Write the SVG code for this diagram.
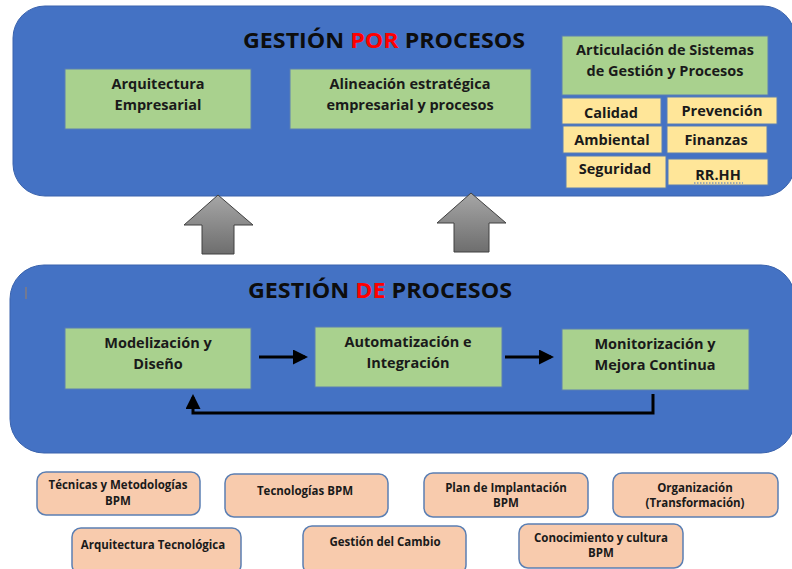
<svg xmlns="http://www.w3.org/2000/svg" width="792" height="569" viewBox="0 0 792 569">
<defs>
<style>
.big{fill:#4472c4;stroke:#3a63ad;stroke-width:1}
.green{fill:#a9d18e;stroke:#5b7fb3;stroke-width:1}
.yellow{fill:#ffe699;stroke:#5b7fb3;stroke-width:1}
.peach{fill:#f8cbad;stroke:#5b7fb3;stroke-width:1.5}
text{font-family:"Open Sans","Liberation Sans",Arial,sans-serif;font-weight:bold;fill:#1a1a1a;text-anchor:middle}
.title{font-size:21px;text-anchor:start;fill:#0d0d0d}
.red{fill:#ff0000}
.t14{font-size:14.5px}
.t11{font-size:11.5px}
.conn{fill:none;stroke:#000;stroke-width:3}
.uparrow{fill:url(#grey);stroke:#404040;stroke-width:1}
</style>
<linearGradient id="grey" x1="0" y1="0" x2="0" y2="1">
<stop offset="0" stop-color="#a6a6a6"/>
<stop offset="1" stop-color="#6e6e6e"/>
</linearGradient>
<marker id="ah" markerWidth="5" markerHeight="5" refX="4" refY="2.5" orient="auto" markerUnits="strokeWidth">
<path d="M0,0 L5,2.5 L0,5 z" fill="#000"/>
</marker>
</defs>

<g id="gestion-por-procesos">
<rect class="big" x="13" y="6" width="782" height="190" rx="32"/>
<text class="title" x="243" y="48" textLength="282" lengthAdjust="spacingAndGlyphs">GESTIÓN <tspan class="red">POR</tspan> PROCESOS</text>
</g>

<g id="arquitectura-empresarial">
<rect class="green" x="65" y="69" width="186" height="60"/>
<text class="t14" x="158" y="89">Arquitectura</text>
<text class="t14" x="158" y="110">Empresarial</text>
</g>

<g id="alineacion">
<rect class="green" x="290" y="69" width="241" height="60"/>
<text class="t14" x="410" y="89">Alineación estratégica</text>
<text class="t14" x="410" y="110">empresarial y procesos</text>
</g>

<g id="articulacion">
<rect class="green" x="562" y="36" width="206" height="59"/>
<text class="t14" x="665" y="55">Articulación de Sistemas</text>
<text class="t14" x="665" y="76">de Gestión y Procesos</text>
</g>

<g id="calidad">
<rect class="yellow" x="562" y="98" width="99" height="26"/>
<text class="t14" x="611" y="118">Calidad</text>
</g>
<g id="prevencion">
<rect class="yellow" x="667" y="97" width="110" height="27"/>
<text class="t14" x="722" y="116">Prevención</text>
</g>
<g id="ambiental">
<rect class="yellow" x="563" y="126" width="99" height="27"/>
<text class="t14" x="612" y="145">Ambiental</text>
</g>
<g id="finanzas">
<rect class="yellow" x="667" y="126" width="100" height="27"/>
<text class="t14" x="716" y="145">Finanzas</text>
</g>
<g id="seguridad">
<rect class="yellow" x="566" y="156" width="100" height="32"/>
<text class="t14" x="615" y="174">Seguridad</text>
</g>
<g id="rrhh">
<rect class="yellow" x="668" y="159" width="100" height="26"/>
<text class="t14" x="718" y="180">RR.HH</text>
<line x1="694" y1="183" x2="743" y2="183" stroke="#4472c4" stroke-width="1" stroke-dasharray="1.5,1.5"/>
</g>

<g id="flecha-1">
<polygon class="uparrow" points="218,195 253,225 234,225 234,254 202,254 202,225 184,225"/>
</g>
<g id="flecha-2">
<polygon class="uparrow" points="471,193 506,223 489,223 489,252 454,252 454,223 437,223"/>
</g>

<g id="gestion-de-procesos">
<rect class="big" x="10" y="265" width="785" height="188" rx="34"/>
<line x1="26" y1="287" x2="26" y2="299" stroke="#a08060" stroke-width="1"/>
<text class="title" x="248" y="298" textLength="264" lengthAdjust="spacingAndGlyphs">GESTIÓN <tspan class="red">DE</tspan> PROCESOS</text>
</g>

<g id="modelizacion">
<rect class="green" x="65" y="328" width="186" height="61"/>
<text class="t14" x="158" y="348">Modelización y</text>
<text class="t14" x="158" y="369">Diseño</text>
</g>
<g id="automatizacion">
<rect class="green" x="315" y="327" width="187" height="60"/>
<text class="t14" x="408" y="347">Automatización e</text>
<text class="t14" x="408" y="368">Integración</text>
</g>
<g id="monitorizacion">
<rect class="green" x="562" y="329" width="187" height="61"/>
<text class="t14" x="655" y="349">Monitorización y</text>
<text class="t14" x="655" y="370">Mejora Continua</text>
</g>

<g id="connectors">
<line class="conn" x1="259" y1="357" x2="305" y2="357" marker-end="url(#ah)"/>
<line class="conn" x1="505" y1="357" x2="551" y2="357" marker-end="url(#ah)"/>
<polyline class="conn" points="653,394 653,413 193,413 193,397" marker-end="url(#ah)"/>
</g>

<g id="tecnicas">
<rect class="peach" x="37" y="472" width="163" height="43" rx="9"/>
<text class="t11" x="118" y="489">Técnicas y Metodologías</text>
<text class="t11" x="118" y="505">BPM</text>
</g>
<g id="tecnologias">
<rect class="peach" x="225" y="474" width="163" height="43" rx="9"/>
<text class="t11" x="305" y="495">Tecnologías BPM</text>
</g>
<g id="plan">
<rect class="peach" x="424" y="473" width="164" height="44" rx="9"/>
<text class="t11" x="506" y="492">Plan de Implantación</text>
<text class="t11" x="506" y="507">BPM</text>
</g>
<g id="organizacion">
<rect class="peach" x="613" y="473" width="165" height="44" rx="9"/>
<text class="t11" x="695" y="492">Organización</text>
<text class="t11" x="695" y="507">(Transformación)</text>
</g>
<g id="arquitectura-tecnologica">
<rect class="peach" x="72" y="528" width="169" height="46" rx="9"/>
<text class="t11" x="153" y="549">Arquitectura Tecnológica</text>
</g>
<g id="gestion-cambio">
<rect class="peach" x="303" y="526" width="163" height="48" rx="9"/>
<text class="t11" x="385" y="546">Gestión del Cambio</text>
</g>
<g id="conocimiento">
<rect class="peach" x="519" y="524" width="164" height="44" rx="9"/>
<text class="t11" x="601" y="542">Conocimiento y cultura</text>
<text class="t11" x="601" y="557">BPM</text>
</g>
</svg>
